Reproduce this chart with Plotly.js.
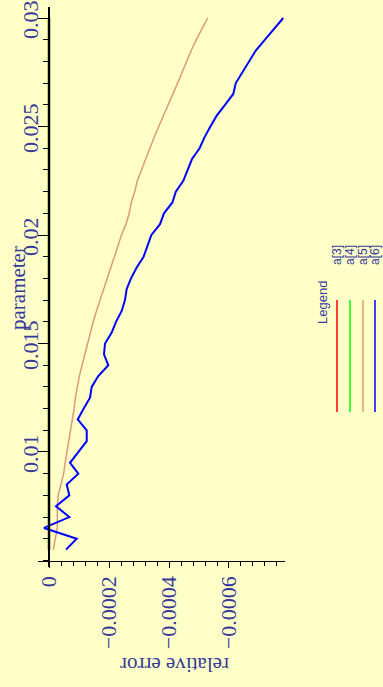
<!DOCTYPE html>
<html>
<head>
<meta charset="utf-8">
<script src="https://cdn.plot.ly/plotly-3.0.1.min.js"></script>
<style>html,body{margin:0;padding:0;background:#FFFFC8;}#chart{width:383px;height:687px;}</style>
</head>
<body>
<div id="chart"></div>
<script>
// parameter values (vertical axis)
const parameter = [0.0055,0.006,0.0065,0.007,0.0075,0.008,0.0085,0.009,0.0095,0.01,
  0.0105,0.011,0.0115,0.012,0.0125,0.013,0.0135,0.014,0.0145,0.015,
  0.0155,0.016,0.0165,0.017,0.0175,0.018,0.0185,0.019,0.0195,0.02,
  0.0205,0.021,0.0215,0.022,0.0225,0.023,0.0235,0.024,0.0245,0.025,
  0.0255,0.026,0.0265,0.027,0.0275,0.028,0.0285,0.029,0.0295,0.03];
// relative error series
const a3 = [0,0,0,0,0,0,0,0,0,0, 0,0,0,0,0,0,0,0,0,0, 0,0,0,0,0,0,0,0,0,0, 0,0,0,0,0,0,0,0,0,0, 0,0,0,0,0,0,0,0,0,0];
const a4 = [0,0,0,0,0,0,0,0,0,0, 0,0,0,0,0,0,0,0,0,0, 0,0,0,0,0,0,0,0,0,0, 0,0,0,0,0,0,0,0,0,0, 0,0,0,0,0,0,0,0,0,0];
const a5 = [-1.43e-5,-2.0e-5,-2.77e-5,-2.77e-5,-2.77e-5,-3.07e-5,-4.0e-5,-4.87e-5,-5.37e-5,-6.0e-5,
  -6.57e-5,-7.2e-5,-7.97e-5,-8.37e-5,-8.8e-5,-9.4e-5,-1.01e-4,-1.103e-4,-1.193e-4,-1.30e-4,
  -1.39e-4,-1.473e-4,-1.583e-4,-1.70e-4,-1.82e-4,-1.94e-4,-2.06e-4,-2.173e-4,-2.293e-4,-2.417e-4,
  -2.567e-4,-2.673e-4,-2.74e-4,-2.86e-4,-2.943e-4,-3.08e-4,-3.24e-4,-3.357e-4,-3.507e-4,-3.657e-4,
  -3.82e-4,-3.98e-4,-4.14e-4,-4.287e-4,-4.437e-4,-4.58e-4,-4.74e-4,-4.91e-4,-5.097e-4,-5.29e-4];
const a6 = [-5.67e-5,-9.23e-5,1.67e-5,-6.77e-5,-2.33e-5,-6.77e-5,-5.9e-5,-9.77e-5,-7.0e-5,-9.77e-5,
  -1.257e-4,-1.257e-4,-9.57e-5,-1.157e-4,-1.367e-4,-1.423e-4,-1.643e-4,-1.977e-4,-1.833e-4,-1.867e-4,
  -2.09e-4,-2.233e-4,-2.423e-4,-2.533e-4,-2.587e-4,-2.733e-4,-2.923e-4,-3.153e-4,-3.287e-4,-3.413e-4,
  -3.7e-4,-3.833e-4,-4.113e-4,-4.227e-4,-4.477e-4,-4.633e-4,-4.767e-4,-5.02e-4,-5.183e-4,-5.38e-4,
  -5.59e-4,-5.867e-4,-6.143e-4,-6.227e-4,-6.443e-4,-6.677e-4,-6.893e-4,-7.2e-4,-7.51e-4,-7.81e-4];
const seriesNames = ["a[3]","a[4]","a[5]","a[6]"];
const seriesColors = ["#FF0000","#00FF00","#DB9A7A","#0000FF"];
const yTickVals = [0.01,0.015,0.02,0.025,0.03];
const yTickText = ["0.01","0.015","0.02","0.025","0.03"];
const xTickVals = [0,-0.0002,-0.0004,-0.0006];
const xTickText = ["0","\u22120.0002","\u22120.0004","\u22120.0006"];

const W = 383, H = 687;
const px = v => v / W, py = v => 1 - v / H;
const labelBlue = "#36399A";
const serif = "Liberation Serif, Times New Roman, serif";
const sans = "Liberation Sans, Arial, sans-serif";

const seriesData = [a3, a4, a5, a6];
const widths = [2.5, 2.5, 1.5, 2];
const traces = seriesData.map((s, i) => ({
  type: "scatter", mode: "lines", x: s, y: parameter, name: seriesNames[i],
  line: {color: seriesColors[i], width: widths[i]}, showlegend: false
}));

// legend drawn as shapes + annotations
const legX = [337, 350, 363, 375];
const shapes = legX.map((x, i) => ({
  type: "line", xref: "paper", yref: "paper",
  x0: px(x), x1: px(x), y0: py(300), y1: py(412),
  line: {color: seriesColors[i], width: 1.5}
}));
const annotations = [
  {text: "parameter", xref: "paper", yref: "paper", x: px(18), y: py(288), textangle: -90,
   showarrow: false, xanchor: "center", yanchor: "middle", font: {family: serif, size: 21, color: labelBlue}},
  {text: "relative error", xref: "paper", yref: "paper", x: px(175), y: py(665), textangle: 180,
   showarrow: false, xanchor: "center", yanchor: "middle", font: {family: serif, size: 21, color: labelBlue}},
  {text: "Legend", xref: "paper", yref: "paper", x: px(322), y: py(303), textangle: -90,
   showarrow: false, xanchor: "center", yanchor: "middle", font: {family: sans, size: 13, color: labelBlue}}
].concat(seriesNames.map((n, i) => ({
  text: n, xref: "paper", yref: "paper", x: px(legX[i]), y: py(255), textangle: -90,
  showarrow: false, xanchor: "center", yanchor: "middle", font: {family: sans, size: 12, color: labelBlue}
})));

const layout = {
  width: W, height: H,
  margin: {l: 0, r: 0, t: 0, b: 0},
  paper_bgcolor: "#FFFFC8", plot_bgcolor: "#FFFFC8",
  showlegend: false,
  xaxis: {
    domain: [px(38), px(285)], range: [3.67e-5, -7.867e-4],
    anchor: "free", position: py(560.5), automargin: false, layer: "above traces",
    showgrid: false, zeroline: false, showline: true, linecolor: "#000", linewidth: 1,
    ticks: "outside", ticklen: 6, tickcolor: "#000", tickwidth: 1,
    tickmode: "array", tickvals: xTickVals, ticktext: xTickText, tickangle: -90,
    ticklabeloverflow: "allow",
    tickfont: {family: serif, size: 22, color: labelBlue},
    minor: {dtick: 0.00004, tick0: 0, ticks: "outside", ticklen: 4, tickcolor: "#000", showgrid: false}
  },
  yaxis: {
    domain: [py(567), py(7)], range: [0.0047, 0.030507],
    anchor: "free", position: px(49), automargin: false, layer: "above traces",
    showgrid: false, zeroline: false, showline: true, linecolor: "#000", linewidth: 2,
    ticks: "outside", ticklen: 10, tickcolor: "#000", tickwidth: 1,
    tickmode: "array", tickvals: yTickVals, ticktext: yTickText, tickangle: -90,
    ticklabeloverflow: "allow", ticklabelstandoff: -9, ticklabelshift: 5,
    tickfont: {family: serif, size: 22, color: labelBlue},
    minor: {dtick: 0.001, tick0: 0, ticks: "outside", ticklen: 5, tickcolor: "#000", showgrid: false}
  },
  shapes: shapes,
  annotations: annotations
};
Plotly.newPlot("chart", traces, layout, {displayModeBar: false, staticPlot: true});
</script>
</body>
</html>
